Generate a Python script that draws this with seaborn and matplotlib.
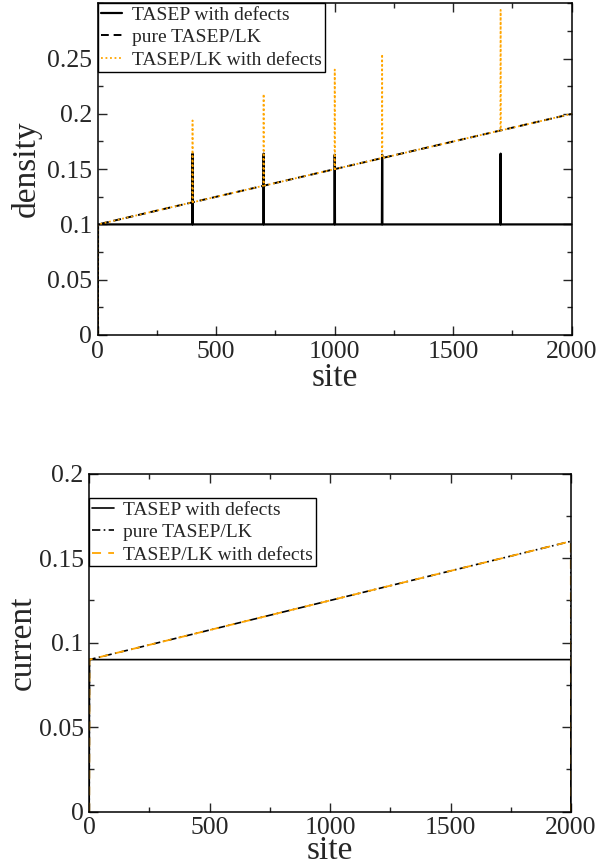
import matplotlib
matplotlib.use("Agg")
import matplotlib.pyplot as plt
import seaborn as sns
from matplotlib.ticker import MultipleLocator


# --- Data ---
# density profile, TASEP with defects (bulk ~0.1, peaks at the defect sites)
dens_defect_sites = [0, 1, 399, 400, 401, 699, 700, 701, 999, 1000, 1001,
                     1199, 1200, 1201, 1699, 1700, 1701, 2000]
dens_defect = [0.0, 0.1, 0.1, 0.164, 0.1, 0.1, 0.164, 0.1, 0.1, 0.163, 0.1,
               0.1, 0.163, 0.1, 0.1, 0.164, 0.1, 0.1]

# density profile, pure TASEP/LK
dens_lk_sites = [0, 1, 250, 500, 750, 1000, 1250, 1500, 1750, 2000]
dens_lk = [0.0, 0.1, 0.1125, 0.125, 0.1375, 0.15, 0.1625, 0.175, 0.1875, 0.2]

# density profile, TASEP/LK with defects
dens_lkdef_sites = [0, 1, 399, 400, 401, 699, 700, 701, 999, 1000, 1001,
                    1199, 1200, 1201, 1699, 1700, 1701, 2000]
dens_lkdef = [0.0, 0.1, 0.12, 0.194, 0.12, 0.135, 0.218, 0.135, 0.15, 0.24, 0.15,
              0.16, 0.254, 0.16, 0.185, 0.294, 0.185, 0.2]

# current profiles
cur_defect_sites = [0, 1, 1999, 2000]
cur_defect = [0.0, 0.09, 0.09, 0.0]
cur_lk_sites = [0, 1, 500, 1000, 1500, 1999, 2000]
cur_lk = [0.0, 0.09, 0.1075, 0.125, 0.1425, 0.16, 0.0]
cur_lkdef_sites = [0, 1, 500, 1000, 1500, 1999, 2000]
cur_lkdef = [0.0, 0.09, 0.1075, 0.125, 0.1425, 0.16, 0.0]

x_ticks = [0, 500, 1000, 1500, 2000]
dens_ticks = [0, 0.05, 0.1, 0.15, 0.2, 0.25]
dens_tick_labels = ["0", "0.05", "0.1", "0.15", "0.2", "0.25"]
cur_ticks = [0, 0.05, 0.1, 0.15, 0.2]
cur_tick_labels = ["0", "0.05", "0.1", "0.15", "0.2"]

labels = ["TASEP with defects", "pure TASEP/LK", "TASEP/LK with defects"]
orange = "#ffa500"


# --- Plot styling ---
sns.set_theme(style="ticks")
plt.rcParams["font.family"] = ["Liberation Serif", "DejaVu Serif"]

fig = plt.figure(figsize=(6.11, 8.66), dpi=100)
ax1 = fig.add_axes([0.160, 0.6132, 0.7757, 0.3830])
ax2 = fig.add_axes([0.146, 0.0627, 0.7886, 0.3903])


# --- Top panel: density ---
sns.lineplot(x=dens_defect_sites, y=dens_defect, estimator=None, sort=False,
             color="black", linewidth=1.6, label=labels[0], ax=ax1)
sns.lineplot(x=dens_lk_sites, y=dens_lk, estimator=None, sort=False,
             color="black", linewidth=1.4, linestyle=(0, (4, 2.5)),
             label=labels[1], ax=ax1)
sns.lineplot(x=dens_lkdef_sites, y=dens_lkdef, estimator=None, sort=False,
             color=orange, linewidth=1.3, linestyle=(0, (1, 1.5)),
             label=labels[2], ax=ax1)

ax1.set_xlim(0, 2000)
ax1.set_ylim(0, 0.3)
ax1.set_yticks(dens_ticks)
ax1.set_yticklabels(dens_tick_labels)
ax1.set_ylabel("density", fontsize=24)
ax1.yaxis.set_label_coords(-0.118, 0.5)
ax1.set_xlabel("site", fontsize=24, labelpad=0)


# --- Bottom panel: current ---
sns.lineplot(x=cur_defect_sites, y=cur_defect, estimator=None, sort=False,
             color="black", linewidth=1.2, label=labels[0], ax=ax2)
sns.lineplot(x=cur_lk_sites, y=cur_lk, estimator=None, sort=False,
             color="black", linewidth=1.2, linestyle=(0, (5, 2, 1, 2)),
             label=labels[1], ax=ax2)
sns.lineplot(x=cur_lkdef_sites, y=cur_lkdef, estimator=None, sort=False,
             color=orange, linewidth=1.3, linestyle=(0, (5, 4)),
             label=labels[2], ax=ax2)

ax2.set_xlim(0, 2000)
ax2.set_ylim(0, 0.2)
ax2.set_yticks(cur_ticks)
ax2.set_yticklabels(cur_tick_labels)
ax2.set_ylabel("current", fontsize=24)
ax2.yaxis.set_label_coords(-0.107, 0.5)
ax2.set_xlabel("site", fontsize=24, labelpad=-2.5)


# --- Axes configuration (shared) ---
for ax in (ax1, ax2):
    ax.set_xticks(x_ticks)
    ax.xaxis.set_minor_locator(MultipleLocator(250))
    ax.yaxis.set_minor_locator(MultipleLocator(0.025))
    ax.tick_params(axis="both", which="both", direction="in",
                   top=True, right=True, width=1, labelsize=18.5, pad=4)
    ax.tick_params(which="major", length=6.5)
    ax.tick_params(which="minor", length=3.5)
    for spine in ax.spines.values():
        spine.set_color("black")
        spine.set_linewidth(1.1)


# --- Legends ---
leg_kw = dict(fontsize=14, frameon=True, fancybox=False, framealpha=1,
              edgecolor="black", handlelength=1.1, handletextpad=0.5,
              borderpad=0.15, labelspacing=0.25, borderaxespad=0,
              loc="upper left")
leg1 = ax1.legend(bbox_to_anchor=(0, 1), **leg_kw)
leg2 = ax2.legend(bbox_to_anchor=(0, 0.928), **leg_kw)
for leg in (leg1, leg2):
    leg.get_frame().set_linewidth(1.0)


# --- Render ---
fig.savefig("out.png", dpi=100)
